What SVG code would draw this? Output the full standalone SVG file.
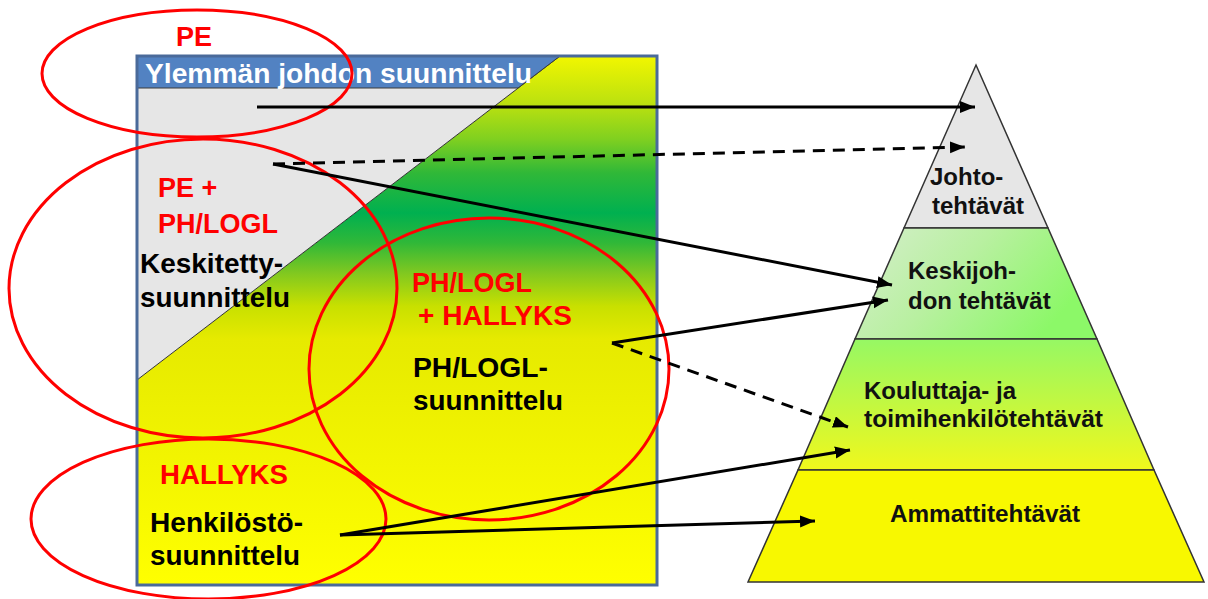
<svg xmlns="http://www.w3.org/2000/svg" width="1208" height="599" viewBox="0 0 1208 599">
<style>
.red{font-family:"Liberation Sans",Arial,sans-serif;font-weight:bold;font-size:27px;fill:#FF0000}
.blk{font-family:"Liberation Sans",Arial,sans-serif;font-weight:bold;font-size:27px;fill:#000}
.pyr{font-family:"Liberation Sans",Arial,sans-serif;font-weight:bold;font-size:24px;fill:#111}
.ell{fill:none;stroke:#FF0000;stroke-width:3}
.con{fill:none;stroke:#000;stroke-width:3}
.dash{stroke-dasharray:12 8}
.tier{stroke:#333;stroke-width:1.5}
</style>
<defs>
<linearGradient id="gMain" gradientUnits="userSpaceOnUse" x1="0" y1="56" x2="0" y2="585">
<stop offset="0" stop-color="#F2F600"/>
<stop offset="0.095" stop-color="#B8E010"/>
<stop offset="0.157" stop-color="#80D020"/>
<stop offset="0.221" stop-color="#30B838"/>
<stop offset="0.297" stop-color="#00B050"/>
<stop offset="0.353" stop-color="#30B838"/>
<stop offset="0.41" stop-color="#80C820"/>
<stop offset="0.473" stop-color="#C8E000"/>
<stop offset="0.535" stop-color="#E6EA00"/>
<stop offset="1" stop-color="#FFFF00"/>
</linearGradient>
<linearGradient id="gT2" x1="0" y1="0" x2="1" y2="0.4">
<stop offset="0" stop-color="#D6EECD"/>
<stop offset="0.5" stop-color="#B8F0A0"/>
<stop offset="1" stop-color="#8CF868"/>
</linearGradient>
<linearGradient id="gT3" x1="0" y1="0" x2="0" y2="1">
<stop offset="0" stop-color="#96F864"/>
<stop offset="1" stop-color="#F0F81C"/>
</linearGradient>
<marker id="ah" markerUnits="userSpaceOnUse" markerWidth="17" markerHeight="13" refX="15" refY="6" orient="auto">
<path d="M0,0 L15,6 L0,12 z" fill="#000"/>
</marker>
</defs>

<g id="planning-box">
<polygon points="560,56 657,56 657,585 137,585 137,380" fill="url(#gMain)"/>
<polygon points="137,88 518,88 137,380" fill="#E6E6E6"/>
<line x1="560" y1="56" x2="137" y2="380" stroke="#333" stroke-width="1"/>
<polygon points="137,56 560,56 518,88 137,88" fill="#5282C2" stroke="#3A3A3A" stroke-width="1"/>
<rect x="137" y="56" width="520" height="529" fill="none" stroke="#4A6A9A" stroke-width="3"/>
<text x="145" y="83" font-family="'Liberation Sans',Arial,sans-serif" font-weight="bold" font-size="28" fill="#FFFFFF" textLength="387" lengthAdjust="spacingAndGlyphs">Ylemmän johdon suunnittelu</text>
</g>

<g id="pyramid">
<polygon class="tier" points="976,65 1048,228 904,228" fill="#E6E6E6"/>
<polygon class="tier" points="904,228 1048,228 1097,339 855,339" fill="url(#gT2)"/>
<polygon class="tier" points="855,339 1097,339 1154,470 798,470" fill="url(#gT3)"/>
<polygon class="tier" points="798,470 1154,470 1204,582 748,582" fill="#F8F800"/>
<text class="pyr" x="930" y="185">Johto-</text>
<text class="pyr" x="932" y="214">tehtävät</text>
<text class="pyr" x="908" y="279">Keskijoh-</text>
<text class="pyr" x="908" y="309">don tehtävät</text>
<text class="pyr" x="864" y="399">Kouluttaja- ja</text>
<text class="pyr" x="864" y="427" textLength="239" lengthAdjust="spacingAndGlyphs">toimihenkilötehtävät</text>
<text class="pyr" x="890" y="522" textLength="190" lengthAdjust="spacingAndGlyphs">Ammattitehtävät</text>
</g>

<g id="pe">
<ellipse class="ell" cx="197" cy="73.5" rx="155" ry="63.5"/>
<text class="red" x="176" y="46">PE</text>
</g>

<g id="pe-phlogl">
<ellipse class="ell" cx="203" cy="288.5" rx="194" ry="149.5"/>
<text class="red" x="158" y="197">PE +</text>
<text class="red" x="158" y="233">PH/LOGL</text>
<text class="blk" x="140" y="273" textLength="143" lengthAdjust="spacingAndGlyphs">Keskitetty-</text>
<text class="blk" x="140" y="307" textLength="150" lengthAdjust="spacingAndGlyphs">suunnittelu</text>
</g>

<g id="phlogl-hallyks">
<ellipse class="ell" cx="489" cy="369" rx="180" ry="151"/>
<text class="red" x="412" y="292">PH/LOGL</text>
<text class="red" x="418" y="325" textLength="154" lengthAdjust="spacingAndGlyphs">+ HALLYKS</text>
<text class="blk" x="413" y="377" textLength="135" lengthAdjust="spacingAndGlyphs">PH/LOGL-</text>
<text class="blk" x="413" y="410" textLength="150" lengthAdjust="spacingAndGlyphs">suunnittelu</text>
</g>

<g id="hallyks">
<ellipse class="ell" cx="208.5" cy="519" rx="177.5" ry="80"/>
<text class="red" x="160" y="484" textLength="128" lengthAdjust="spacingAndGlyphs">HALLYKS</text>
<text class="blk" x="150" y="532" textLength="153" lengthAdjust="spacingAndGlyphs">Henkilöstö-</text>
<text class="blk" x="150" y="565" textLength="150" lengthAdjust="spacingAndGlyphs">suunnittelu</text>
</g>

<g id="connectors">
<line class="con" x1="257" y1="107" x2="975" y2="107" marker-end="url(#ah)"/>
<line class="con dash" x1="273" y1="164" x2="965" y2="147" marker-end="url(#ah)"/>
<line class="con" x1="273" y1="164" x2="892" y2="285" marker-end="url(#ah)"/>
<line class="con" x1="612" y1="343" x2="888" y2="300" marker-end="url(#ah)"/>
<line class="con dash" x1="612" y1="343" x2="848" y2="427" marker-end="url(#ah)"/>
<line class="con" x1="340" y1="535" x2="850" y2="450" marker-end="url(#ah)"/>
<line class="con" x1="340" y1="535" x2="815" y2="521" marker-end="url(#ah)"/>
</g>
</svg>
